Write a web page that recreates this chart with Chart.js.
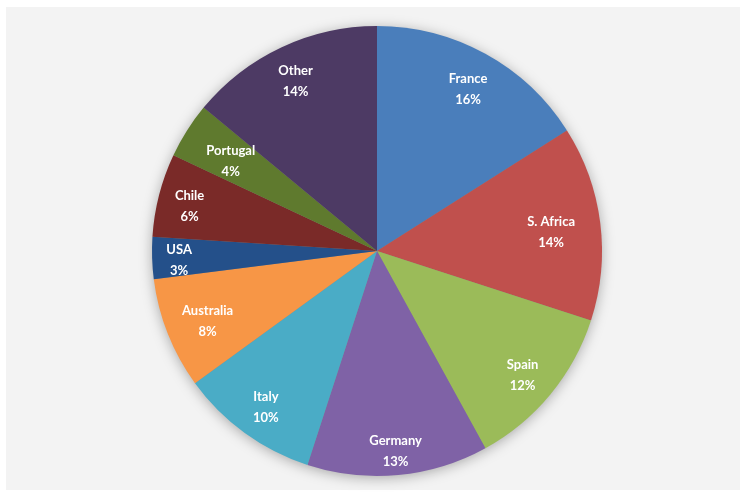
<!DOCTYPE html>
<html>
<head>
<meta charset="utf-8">
<script src="https://cdn.jsdelivr.net/npm/chart.js@4/dist/chart.umd.min.js"></script>
<style>
  html, body { margin: 0; padding: 0; background: #ffffff; }
  #wrap { width: 740px; height: 497px; position: relative; }
</style>
</head>
<body>
<div id="wrap"><canvas id="c" width="740" height="497"></canvas></div>
<script>
const categories = ["France", "S. Africa", "Spain", "Germany", "Italy", "Australia", "USA", "Chile", "Portugal", "Other"];
const shares = [16, 14, 12, 13, 10, 8, 3, 6, 4, 14];
const sliceColors = ["#4a7ebb", "#c0504d", "#9bbb59", "#7f62a6", "#4aacc6", "#f79646", "#24508a", "#7a2a28", "#5f7a2e", "#4d3a64"];
const labelRadius = [0.84, 0.78, 0.84, 0.88, 0.84, 0.81, 0.88, 0.86, 0.77, 0.85];

const panelPlugin = {
  id: 'panel',
  beforeDraw(chart) {
    const ctx = chart.ctx;
    ctx.save();
    ctx.fillStyle = '#ffffff';
    ctx.fillRect(0, 0, chart.width, chart.height);
    ctx.fillStyle = '#f3f3f3';
    ctx.fillRect(6, 7, chart.width - 6, chart.height - 14);
    ctx.restore();
  },
  beforeDatasetsDraw(chart) {
    const meta = chart.getDatasetMeta(0);
    const a = meta.data[0];
    if (!a) return;
    const ctx = chart.ctx;
    ctx.save();
    ctx.shadowColor = 'rgba(0,0,0,0.35)';
    ctx.shadowBlur = 14;
    ctx.shadowOffsetX = 0;
    ctx.shadowOffsetY = 2;
    ctx.fillStyle = '#888888';
    ctx.beginPath();
    ctx.arc(a.x, a.y, a.outerRadius - 1, 0, Math.PI * 2);
    ctx.fill();
    ctx.restore();
  },
  afterDatasetsDraw(chart) {
    const meta = chart.getDatasetMeta(0);
    const ctx = chart.ctx;
    ctx.save();
    ctx.fillStyle = '#ffffff';
    ctx.textAlign = 'center';
    ctx.textBaseline = 'middle';
    ctx.font = 'bold 13px Lato, "Open Sans", sans-serif';
    meta.data.forEach((arc, i) => {
      const mid = (arc.startAngle + arc.endAngle) / 2;
      const r = arc.outerRadius * labelRadius[i];
      const x = arc.x + Math.cos(mid) * r;
      const y = arc.y + Math.sin(mid) * r;
      ctx.fillText(categories[i], x, y - 7);
      ctx.fillText(shares[i] + '%', x, y + 14);
    });
    ctx.restore();
  }
};

new Chart(document.getElementById('c'), {
  type: 'pie',
  data: {
    labels: categories,
    datasets: [{
      data: shares,
      backgroundColor: sliceColors,
      borderWidth: 0
    }]
  },
  options: {
    responsive: false,
    animation: false,
    layout: { padding: { top: 26, bottom: 21, left: 152, right: 138 } },
    plugins: {
      legend: { display: false },
      tooltip: { enabled: false }
    }
  },
  plugins: [panelPlugin]
});
</script>
</body>
</html>
